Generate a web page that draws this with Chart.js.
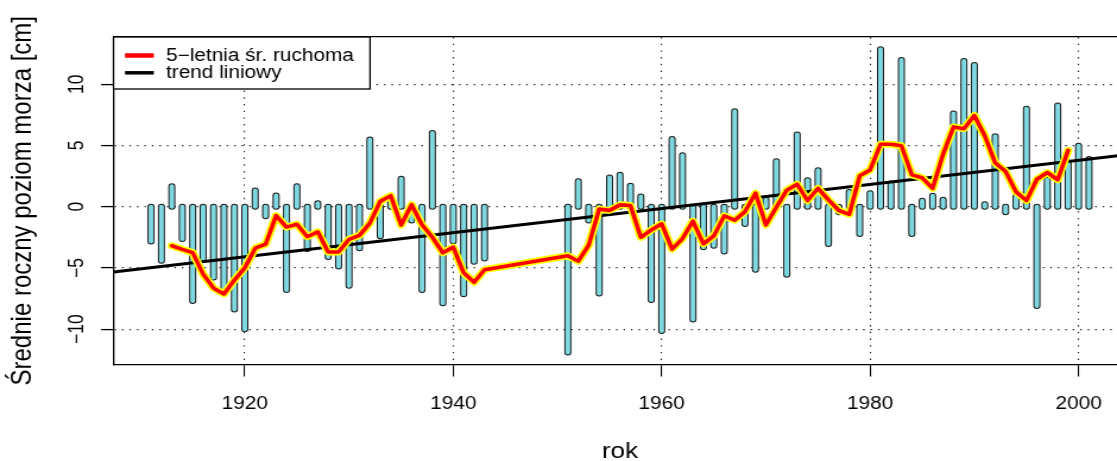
<!DOCTYPE html>
<html>
<head>
<meta charset="utf-8">
<script src="https://cdn.jsdelivr.net/npm/chart.js@4.4.1/dist/chart.umd.min.js"></script>
<style>
html, body { margin: 0; padding: 0; background: #ffffff; overflow: hidden; width: 1117px; height: 461px; }
#wrap { width: 1117px; height: 461px; overflow: hidden; position: relative; }
#c { display: block; width: 948px; height: 461px; transform: scaleX(1.188298); transform-origin: 0 0; }
</style>
</head>
<body>
<div id="wrap"><canvas id="c" width="948" height="461"></canvas></div>
<script>
// ---- data ----
const years = [
  1911, 1912, 1913, 1914, 1915, 1916, 1917, 1918, 1919, 1920,
  1921, 1922, 1923, 1924, 1925, 1926, 1927, 1928, 1929, 1930,
  1931, 1932, 1933, 1934, 1935, 1936, 1937, 1938, 1939, 1940,
  1941, 1942, 1943,
  1951, 1952, 1953, 1954, 1955, 1956, 1957, 1958, 1959, 1960,
  1961, 1962, 1963, 1964, 1965, 1966, 1967, 1968, 1969, 1970,
  1971, 1972, 1973, 1974, 1975, 1976, 1977, 1978, 1979, 1980,
  1981, 1982, 1983, 1984, 1985, 1986, 1987, 1988, 1989, 1990,
  1991, 1992, 1993, 1994, 1995, 1996, 1997, 1998, 1999, 2000,
  2001
];
const seaLevel = [
  -2.85, -4.41, 1.66, -2.64, -7.69, -4.3, -5.78, -7.1, -8.4, -10.0,
  1.33, -0.78, 0.92, -6.79, 1.66, -3.46, 0.29, -4.1, -4.88, -6.46,
  -3.4, 5.48, -2.42, 0.3, 2.28, -1.13, -6.79, 6.02, -7.89, -2.83,
  -7.15, -4.49, -4.22,
  -11.9, 2.07, -1.13, -7.09, 2.39, 2.61, 1.7, 0.84, -7.61, -10.15,
  5.53, 4.2, -9.2, -3.32, -3.18, -3.65, 7.8, -1.41, -5.15, 0.56,
  3.7, -5.56, 5.89, 2.15, 2.97, -3.05, -0.45, 1.19, -2.23, 1.1,
  12.85, 1.9, 11.98, -2.23, 0.48, 0.89, 0.56, 7.61, 11.9, 11.57,
  0.2, 5.75, -0.45, 0.84, 7.99, -8.1, 2.2, 8.26, 3.62, 4.98,
  3.89
];
// 5-year moving average, one value per year from the 3rd to the 3rd-last
const movingAvg = [
  -3.19, -3.48, -3.75, -5.5, -6.65, -7.12, -5.99, -4.99, -3.39, -3.06,
  -0.73, -1.67, -1.43, -2.45, -2.05, -3.7, -3.7, -2.66, -2.34, -1.34,
  0.45, 0.9, -1.5, 0.16, -1.48, -2.5, -3.76, -3.3, -5.4, -6.16,
  -5.14,
  -4.0, -4.45, -3.14, -0.2, -0.3, 0.15, 0.1, -2.5, -1.9, -1.4,
  -3.46, -2.6, -1.18, -3.03, -2.38, -0.75, -1.1, -0.4, 1.1, -1.5,
  -0.05, 1.35, 1.83, 0.5, 1.5, 0.55, -0.31, -0.62, 2.52, 3.0,
  5.1, 5.1, 4.97, 2.6, 2.36, 1.5, 4.29, 6.51, 6.37, 7.45,
  5.79, 3.58, 2.87, 1.21, 0.5, 2.24, 2.79, 2.2, 4.6
];
const movingAvgYears = years.slice(2, years.length - 2);
const trendSlope = 0.0984;      // cm per year
const trendAt1960 = -0.15;      // cm
const xTickValues = [1920, 1940, 1960, 1980, 2000];
const yTickValues = [-10, -5, 0, 5, 10];
const xLimits = [1907.4, 2004.6];
const yLimits = [-12.88, 13.85];
const legendLabels = ['5\u2212letnia \u015br. ruchoma', 'trend liniowy'];
const xTitle = 'rok';
const yTitle = '\u015arednie roczny poziom morza [cm]';

// ---- tables built from the arrays ----
const barPoints = [];
years.forEach((yr, i) => {
  barPoints.push({x: yr, y: 0}, {x: yr, y: seaLevel[i]}, {x: yr, y: null});
});
const maPoints = movingAvgYears.map((yr, i) => ({x: yr, y: movingAvg[i]}));
const trendPoints = xLimits.map(yr => ({x: yr, y: trendAt1960 + trendSlope * (yr - 1960)}));

const FONT = 'Liberation Sans';
const minusFmt = v => (v < 0 ? '\u2212' + Math.abs(v) : String(v));

const legendPlugin = {
  id: 'rLegend',
  afterDraw(chart) {
    const ctx = chart.ctx;
    const a = chart.chartArea;
    const left = a.left, top = a.top, right = 311.4, bottom = 89;
    ctx.save();
    ctx.fillStyle = '#ffffff';
    ctx.fillRect(left, top, right - left, bottom - top);
    ctx.strokeStyle = '#000000';
    ctx.lineWidth = 1.3;
    ctx.strokeRect(left, top, right - left, bottom - top);
    const entries = [
      {ds: chart.data.datasets[0], y: 55.5, w: 4.5},
      {ds: chart.data.datasets[2], y: 72.8, w: 3.5}
    ];
    entries.forEach(e => {
      ctx.beginPath();
      ctx.strokeStyle = e.ds.borderColor;
      ctx.lineWidth = e.w;
      ctx.lineCap = 'butt';
      ctx.moveTo(105.2, e.y);
      ctx.lineTo(129.4, e.y);
      ctx.stroke();
      ctx.fillStyle = '#000000';
      ctx.font = '17.5px "' + FONT + '"';
      ctx.textAlign = 'left';
      ctx.textBaseline = 'middle';
      ctx.fillText(e.ds.label, 139.7, e.y + 0.5);
    });
    ctx.restore();
  }
};

new Chart(document.getElementById('c'), {
  type: 'line',
  data: {
    datasets: [
      {label: legendLabels[0], data: maPoints, borderColor: '#ff0000', borderWidth: 3.6,
       borderJoinStyle: 'round', borderCapStyle: 'round', pointRadius: 0, tension: 0},
      {label: 'ma-halo', data: maPoints, borderColor: '#ffff00', borderWidth: 7,
       borderJoinStyle: 'round', borderCapStyle: 'round', pointRadius: 0, tension: 0},
      {label: legendLabels[1], data: trendPoints, borderColor: '#000000', borderWidth: 3,
       pointRadius: 0, tension: 0},
      {label: 'bars-fill', data: barPoints, borderColor: '#7fd8e0', borderWidth: 4,
       borderCapStyle: 'round', pointRadius: 0, spanGaps: false},
      {label: 'bars-edge', data: barPoints, borderColor: '#1a1a1a', borderWidth: 6,
       borderCapStyle: 'round', pointRadius: 0, spanGaps: false}
    ]
  },
  options: {
    responsive: false,
    animation: false,
    devicePixelRatio: 1,
    events: [],
    layout: {padding: {top: 37, left: 0, right: 0, bottom: 0}},
    plugins: {legend: {display: false}, tooltip: {enabled: false}},
    scales: {
      x: {
        type: 'linear', position: 'bottom', min: xLimits[0], max: xLimits[1],
        afterBuildTicks: s => { s.ticks = xTickValues.map(v => ({value: v})); },
        afterFit: s => { s.height = 96.5; },
        ticks: {autoSkip: false, minRotation: 0, maxRotation: 0, padding: 17, color: '#000',
                font: {family: FONT, size: 17.5, lineHeight: 1.2}, callback: v => String(v)},
        grid: {display: true, drawOnChartArea: true, drawTicks: true, tickLength: 12,
               color: '#222', lineWidth: 1.1, tickColor: '#000', tickWidth: 1.1},
        border: {display: true, color: '#000', width: 1.3, dash: [1.4, 5.3]},
        title: {display: true, text: xTitle, color: '#000',
                font: {family: FONT, size: 22, lineHeight: '18px'}, padding: {top: 0, bottom: 0}}
      },
      xTop: {
        type: 'linear', position: 'top', min: xLimits[0], max: xLimits[1],
        afterFit: s => { s.height = 0; },
        ticks: {display: false},
        grid: {display: false, drawTicks: false, tickLength: 0},
        border: {display: true, color: '#000', width: 1.3}
      },
      y: {
        type: 'linear', position: 'left', min: yLimits[0], max: yLimits[1],
        afterBuildTicks: s => { s.ticks = yTickValues.map(v => ({value: v})); },
        afterFit: s => { s.width = 95.5; },
        ticks: {autoSkip: false, minRotation: 90, maxRotation: 90, crossAlign: 'center', padding: 4.6,
                color: '#000', font: {family: FONT, size: 17.5, lineHeight: 1.2}, callback: minusFmt},
        grid: {display: true, drawOnChartArea: true, drawTicks: true, tickLength: 10.5,
               color: '#222', lineWidth: 1.2, tickColor: '#000', tickWidth: 1.3},
        border: {display: true, color: '#000', width: 1.3, dash: [1.3, 5]},
        title: {display: true, text: yTitle, color: '#000',
                font: {family: FONT, size: 24, lineHeight: '18px'}, padding: {top: 10.5, bottom: 0}}
      }
    }
  },
  plugins: [legendPlugin]
});
</script>
</body>
</html>
